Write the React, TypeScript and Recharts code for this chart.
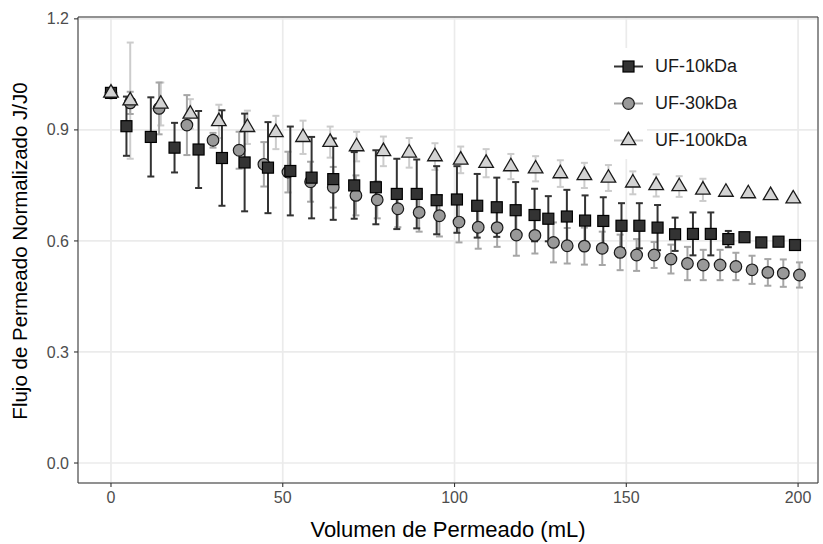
import React from 'react';
import { ScatterChart, Scatter, XAxis, YAxis, CartesianGrid, ErrorBar, ReferenceArea, Legend } from 'recharts';

const FONT = '"Liberation Sans", Arial, Helvetica, sans-serif';

// UF-10kDa (squares)
const x10 = [0, 4.5, 11.6, 18.5, 25.5, 32.3, 38.9, 45.7, 52.2, 58.4, 64.7, 70.8, 77.1, 83.2, 89.0, 94.8, 100.7, 106.6, 112.3, 117.8, 123.3, 127.3, 132.7, 138.0, 143.3, 148.6, 153.8, 159.1, 164.2, 169.4, 174.6, 179.7, 184.4, 189.3, 194.3, 199.1];
const y10 = [1.0, 0.91, 0.881, 0.852, 0.847, 0.824, 0.812, 0.798, 0.789, 0.771, 0.767, 0.75, 0.745, 0.727, 0.727, 0.71, 0.712, 0.695, 0.691, 0.683, 0.67, 0.66, 0.666, 0.655, 0.654, 0.641, 0.641, 0.636, 0.618, 0.619, 0.619, 0.605, 0.61, 0.596, 0.598, 0.589];
const sd10 = [0, 0.08, 0.107, 0.067, 0.104, 0.129, 0.132, 0.123, 0.12, 0.11, 0.11, 0.09, 0.1, 0.095, 0.093, 0.092, 0.09, 0.086, 0.08, 0.076, 0.071, 0.061, 0.072, 0.068, 0.064, 0.061, 0.061, 0.061, 0.045, 0.058, 0.058, 0.022, 0.008, 0, 0, 0];

// UF-30kDa (circles)
const x30 = [0, 5.6, 14.0, 22.1, 29.7, 37.3, 44.5, 51.5, 58.1, 64.7, 71.3, 77.5, 83.5, 89.7, 95.6, 101.3, 106.9, 112.4, 118.0, 123.4, 128.8, 132.8, 137.8, 143.0, 148.2, 153.0, 158.1, 163.0, 167.8, 172.4, 177.3, 181.9, 186.6, 191.2, 195.7, 200.4];
const y30 = [1.0, 0.973, 0.958, 0.913, 0.872, 0.845, 0.807, 0.786, 0.76, 0.745, 0.723, 0.711, 0.687, 0.677, 0.668, 0.651, 0.637, 0.636, 0.616, 0.615, 0.596, 0.587, 0.586, 0.58, 0.569, 0.562, 0.562, 0.551, 0.539, 0.535, 0.535, 0.531, 0.522, 0.515, 0.513, 0.508];
const sd30 = [0, 0.03, 0.07, 0.081, 0.02, 0.05, 0.06, 0.055, 0.054, 0.055, 0.054, 0.05, 0.05, 0.052, 0.056, 0.055, 0.058, 0.052, 0.056, 0.049, 0.054, 0.048, 0.05, 0.045, 0.048, 0.043, 0.035, 0.039, 0.045, 0.041, 0.041, 0.037, 0.038, 0.036, 0.037, 0.034];

// UF-100kDa (triangles)
const x100 = [0, 5.6, 14.5, 23.1, 31.4, 39.7, 48.0, 55.9, 63.8, 71.5, 79.3, 86.8, 94.3, 101.8, 109.2, 116.4, 123.6, 130.8, 137.8, 144.8, 151.9, 158.7, 165.4, 172.3, 179.0, 185.5, 192.0, 198.6];
const y100 = [1.0, 0.979, 0.97, 0.943, 0.923, 0.907, 0.893, 0.88, 0.867, 0.855, 0.842, 0.838, 0.828, 0.819, 0.81, 0.801, 0.795, 0.782, 0.777, 0.77, 0.757, 0.75, 0.747, 0.738, 0.732, 0.728, 0.723, 0.714];
const sd100 = [0, 0.157, 0.058, 0.04, 0.045, 0.045, 0.045, 0.045, 0.042, 0.04, 0.04, 0.04, 0.036, 0.036, 0.038, 0.034, 0.034, 0.036, 0.034, 0.035, 0.031, 0.03, 0.028, 0.03, 0, 0, 0, 0];

const seriesNames = ['UF-10kDa', 'UF-30kDa', 'UF-100kDa'];
const xTicks = [0, 50, 100, 150, 200];
const yTicks = [0, 0.3, 0.6, 0.9, 1.2];
const xTitle = 'Volumen de Permeado (mL)';
const yTitle = 'Flujo de Permeado Normalizado J/J0';

const X_DOMAIN: [number, number] = [-9.6, 205.8];
const Y_DOMAIN: [number, number] = [-0.054, 1.205];

const build = (xs: number[], ys: number[], sds: number[]) => xs.map((x, i) => ({ x, y: ys[i], sd: sds[i] }));
const data10 = build(x10, y10, sd10);
const data30 = build(x30, y30, sd30);
const data100 = build(x100, y100, sd100);

const COL = {
  sqFill: '#333333',
  ciFill: '#999999',
  trFill: '#d3d3d3',
  outline: '#1a1a1a',
  bar10: '#333333',
  bar30: '#a6a6a6',
  bar100: '#cccccc',
};

const drawSquare = (cx: number, cy: number) => (
  <rect x={cx - 5.5} y={cy - 5.5} width={11} height={11} fill={COL.sqFill} stroke="#000" strokeWidth={1.2} />
);
const drawCircle = (cx: number, cy: number) => (
  <circle cx={cx} cy={cy} r={5.8} fill={COL.ciFill} stroke={COL.outline} strokeWidth={1.2} />
);
const drawTriangle = (cx: number, cy: number) => (
  <polygon
    points={`${cx},${cy - 8.3} ${cx - 7.3},${cy + 4.2} ${cx + 7.3},${cy + 4.2}`}
    fill={COL.trFill}
    stroke={COL.outline}
    strokeWidth={1.3}
    strokeLinejoin="miter"
  />
);

const SquareShape = (p: any) => (p.cx == null ? <g /> : drawSquare(p.cx, p.cy));
const CircleShape = (p: any) => (p.cx == null ? <g /> : drawCircle(p.cx, p.cy));
const TriangleShape = (p: any) => (p.cx == null ? <g /> : drawTriangle(p.cx, p.cy));
const NoShape = () => <g />;

const XTick = (p: any) => (
  <text x={p.x} y={p.y} dy={14} textAnchor="middle" fontSize={16} fill="#4d4d4d" fontFamily={FONT}>
    {p.payload.value}
  </text>
);
const YTick = (p: any) => (
  <text x={p.x - 3} y={p.y} dy={5.6} textAnchor="end" fontSize={16} fill="#4d4d4d" fontFamily={FONT}>
    {Number(p.payload.value).toFixed(1)}
  </text>
);

const legendItems = [
  { name: seriesNames[0], bar: COL.bar10, draw: drawSquare },
  { name: seriesNames[1], bar: COL.bar30, draw: drawCircle },
  { name: seriesNames[2], bar: COL.bar100, draw: drawTriangle },
];

const LegendContent = () => (
  <div style={{ position: 'relative', width: 190, height: 112, fontFamily: FONT }}>
    {legendItems.map((it, i) => (
      <div
        key={it.name}
        style={{ position: 'absolute', left: 0, top: i * 37, height: 37, display: 'flex', alignItems: 'center' }}
      >
        <svg width={37} height={37} style={{ display: 'block' }}>
          <rect x={0} y={0} width={37} height={37} fill="#ffffff" />
          <line x1={4} x2={33} y1={18.5} y2={18.5} stroke={it.bar} strokeWidth={2} />
          {it.draw(18.5, 18.5)}
        </svg>
        <span style={{ marginLeft: 8, fontSize: 18, color: '#1a1a1a', whiteSpace: 'nowrap' }}>{it.name}</span>
      </div>
    ))}
  </div>
);

export default function App() {
  return (
    <div style={{ position: 'absolute', left: 0, top: 0, width: 823, height: 544, background: '#fff' }}>
      <ScatterChart width={823} height={544} margin={{ top: 17, right: 5, left: 0, bottom: 0 }}>
        <CartesianGrid stroke="#ebebeb" strokeWidth={1.7} />
        <XAxis
          type="number"
          dataKey="x"
          domain={X_DOMAIN}
          ticks={xTicks}
          allowDataOverflow
          axisLine={false}
          tickLine={{ stroke: '#333333', strokeWidth: 1.1 }}
          tickSize={4}
          height={61}
          tick={XTick}
          label={{
            content: () => (
              <text x={448} y={537} textAnchor="middle" fontSize={22} fill="#000" fontFamily={FONT}>
                {xTitle}
              </text>
            ),
          }}
        />
        <YAxis
          type="number"
          dataKey="y"
          domain={Y_DOMAIN}
          ticks={yTicks}
          allowDataOverflow
          axisLine={false}
          tickLine={{ stroke: '#333333', strokeWidth: 1.1 }}
          tickSize={4}
          width={78}
          tick={YTick}
          label={{
            content: () => (
              <text
                x={0}
                y={0}
                transform="translate(27,251) rotate(-90)"
                textAnchor="middle"
                fontSize={20.5}
                fill="#000"
                fontFamily={FONT}
              >
                {yTitle}
              </text>
            ),
          }}
        />
        <Scatter data={data100} shape={NoShape} isAnimationActive={false} legendType="none">
          <ErrorBar dataKey="sd" direction="y" width={3.5} stroke={COL.bar100} strokeWidth={2} isAnimationActive={false} />
        </Scatter>
        <Scatter data={data30} shape={NoShape} isAnimationActive={false} legendType="none">
          <ErrorBar dataKey="sd" direction="y" width={3.5} stroke={COL.bar30} strokeWidth={2} isAnimationActive={false} />
        </Scatter>
        <Scatter data={data10} shape={NoShape} isAnimationActive={false} legendType="none">
          <ErrorBar dataKey="sd" direction="y" width={3.5} stroke={COL.bar10} strokeWidth={2} isAnimationActive={false} />
        </Scatter>
        <Scatter name={seriesNames[1]} data={data30} shape={CircleShape} isAnimationActive={false} />
        <Scatter name={seriesNames[0]} data={data10} shape={SquareShape} isAnimationActive={false} />
        <Scatter name={seriesNames[2]} data={data100} shape={TriangleShape} isAnimationActive={false} />
        <ReferenceArea
          x1={X_DOMAIN[0]}
          x2={X_DOMAIN[1]}
          y1={Y_DOMAIN[0]}
          y2={Y_DOMAIN[1]}
          fill="none"
          stroke="#333333"
          strokeWidth={1}
          ifOverflow="visible"
        />
        <Legend
          layout="vertical"
          align="center"
          verticalAlign="middle"
          content={LegendContent}
          wrapperStyle={{ left: 610, top: 48, width: 190, height: 112 }}
        />
      </ScatterChart>
    </div>
  );
}
